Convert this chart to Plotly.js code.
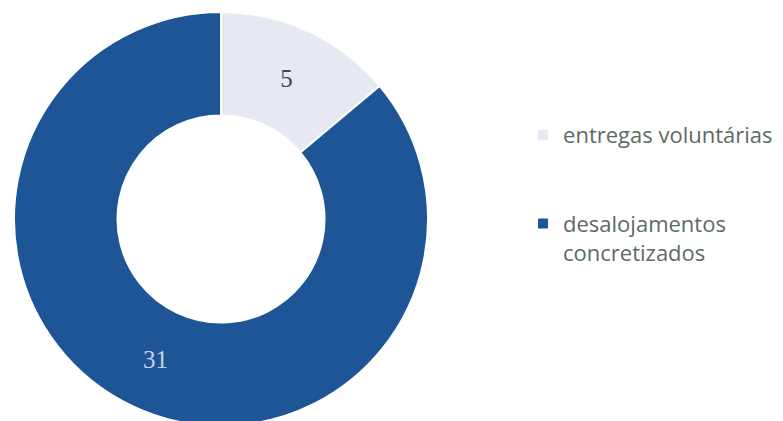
<!DOCTYPE html>
<html>
<head>
<meta charset="utf-8">
<script src="https://cdn.plot.ly/plotly-3.0.1.min.js"></script>
<style>
html, body { margin: 0; padding: 0; overflow: hidden; background: #ffffff; }
#chart { width: 783px; height: 440px; }
</style>
</head>
<body>
<div id="chart"></div>
<script>
const categories = ['entregas voluntárias', 'desalojamentos<br>concretizados'];
const values = [5, 31];
const sliceColors = ['#e6e9f2', '#1e5596'];
const textColors = ['#454545', '#c9d2e4'];

// extra blank lines after single-line entries to reproduce the wide legend spacing
const legendLabels = categories.map(c => c.indexOf('<br>') === -1 ? c + '<br> <br> ' : c);

const W = 783, H = 440;
const cx = 221, cy = 219, R = 207;

const trace = {
  type: 'pie',
  labels: legendLabels,
  values: values,
  sort: false,
  direction: 'clockwise',
  rotation: 0,
  hole: 0.5,
  marker: { colors: sliceColors, line: { color: '#ffffff', width: 2 } },
  textinfo: 'value',
  textposition: 'inside',
  insidetextorientation: 'horizontal',
  insidetextfont: { family: 'Liberation Serif, DejaVu Serif, serif', size: 25, color: textColors },
  domain: {
    x: [(cx - R) / W, (cx + R) / W],
    y: [1 - (cy + R) / H, 1 - (cy - R) / H]
  },
  hoverinfo: 'label+value'
};

const layout = {
  width: W,
  height: H,
  margin: { l: 0, r: 0, t: 0, b: 0 },
  paper_bgcolor: '#ffffff',
  showlegend: true,
  legend: {
    x: 0.668, xanchor: 'left',
    y: 1 - 114 / H, yanchor: 'top',
    valign: 'top',
    font: { family: 'Open Sans, Lato, sans-serif', size: 22, color: '#5c6b64' },
    bgcolor: 'rgba(0,0,0,0)'
  }
};

Plotly.newPlot('chart', [trace], layout, { displayModeBar: false, staticPlot: true });
</script>
</body>
</html>
